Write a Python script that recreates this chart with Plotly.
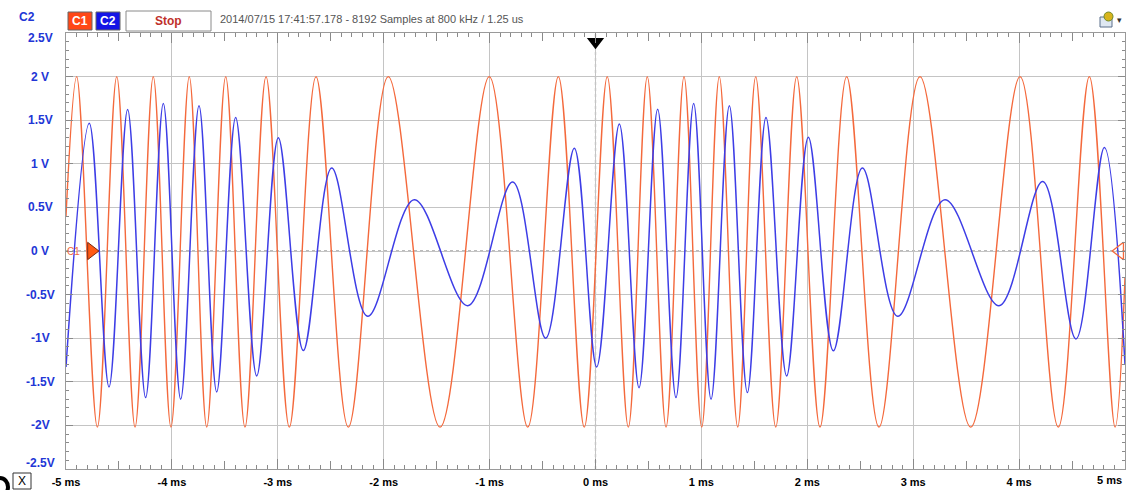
import plotly.graph_objects as go

# ---- data (time in ms, voltage in V) ----
# C1 (orange): extrema of the swept sine, plus the two window edges
c1_t = [-5.0, -4.899, -4.704, -4.521, -4.348, -4.176, -4.009, -3.836, -3.671, -3.492,
        -3.310, -3.111, -2.891, -2.639, -2.334, -1.957, -1.468, -1.003, -0.640, -0.351,
        -0.106, 0.111, 0.310, 0.489, 0.666, 0.836, 1.003, 1.169, 1.343, 1.513,
        1.702, 1.900, 2.120, 2.372, 2.677, 3.064, 3.543, 4.009, 4.370, 4.663,
        4.906, 5.0]
c1_v = [0.4, 2.0, -2.02, 2.0, -2.02, 2.0, -2.02, 2.0, -2.02, 2.0,
        -2.02, 2.0, -2.02, 2.0, -2.02, 2.0, -2.02, 2.0, -2.02, 2.0,
        -2.02, 2.0, -2.02, 2.0, -2.02, 2.0, -2.02, 2.0, -2.02, 2.0,
        -2.02, 2.0, -2.02, 2.0, -2.02, 2.0, -2.02, 2.0, -2.02, 2.0,
        -2.02, -0.3]

# C2 (blue): extrema of the filtered response, plus the two window edges
c2_t = [-5.0, -4.780, -4.594, -4.418, -4.248, -4.081, -3.917, -3.744, -3.577, -3.398,
        -3.199, -2.995, -2.759, -2.491, -2.151, -1.711, -1.207, -0.782, -0.470, -0.200,
        0.011, 0.225, 0.411, 0.587, 0.760, 0.927, 1.091, 1.264, 1.434, 1.610,
        1.805, 2.010, 2.246, 2.520, 2.854, 3.300, 3.810, 4.223, 4.537, 4.805,
        5.0]
c2_v = [-1.33, 1.464, -1.559, 1.624, -1.681, 1.692, -1.700, 1.665, -1.616, 1.532,
        -1.433, 1.300, -1.141, 0.951, -0.749, 0.589, -0.627, 0.791, -1.000, 1.179,
        -1.331, 1.456, -1.567, 1.627, -1.681, 1.692, -1.700, 1.665, -1.624, 1.532,
        -1.433, 1.304, -1.144, 0.951, -0.749, 0.589, -0.627, 0.798, -1.008, 1.186,
        -1.30]

x_tick_vals = [-5, -4, -3, -2, -1, 0, 1, 2, 3, 4, 5]
x_tick_text = ["-5 ms", "-4 ms", "-3 ms", "-2 ms", "-1 ms", "0 ms", "1 ms", "2 ms",
               "3 ms", "4 ms", "5 ms"]
x_half_ticks = [-4.5, -3.5, -2.5, -1.5, -0.5, 0.5, 1.5, 2.5, 3.5, 4.5]
y_tick_vals = [2.5, 2, 1.5, 1, 0.5, 0, -0.5, -1, -1.5, -2, -2.5]
y_tick_text = ["2.5V", "2 V", "1.5V", "1 V", "0.5V", "0 V", "-0.5V", "-1V", "-1.5V",
               "-2V", "-2.5V"]

trigger_time = 0.0
trigger_level = 0.0

# ---- style ----
ORANGE = "#f4693c"
BLUE = "#3d3de6"
LABEL_BLUE = "#2236d6"
GRID = "#c4c4c4"
FONT = "Liberation Sans, Arial, sans-serif"

L, R, T, B = 66, 2, 33, 21
W, H = 1127, 490
PW, PH = W - L - R, H - T - B


def px(xpix):
    return (xpix - L) / PW


def py(ypix):
    return (H - B - ypix) / PH


def note(x, y, text, size, color, xanchor="center", xref="paper", yref="paper", yshift=0):
    fig.add_annotation(x=x, xref=xref, y=y, yref=yref, text=text, showarrow=False,
                       xanchor=xanchor, yanchor="middle", yshift=yshift,
                       font=dict(family=FONT, size=size, color=color))


fig = go.Figure()

fig.add_trace(go.Scatter(x=c1_t, y=c1_v, mode="lines",
                         line=dict(color=ORANGE, width=1.4, shape="spline", smoothing=1.0),
                         hoverinfo="skip", showlegend=False))
fig.add_trace(go.Scatter(x=c2_t, y=c2_v, mode="lines",
                         line=dict(color=BLUE, width=1.5, shape="spline", smoothing=1.0),
                         hoverinfo="skip", showlegend=False))

# dummy trace on the overlay axis that draws the 0.5 ms ruler ticks
fig.add_trace(go.Scatter(x=[x_tick_vals[0]], y=[trigger_level], xaxis="x2", mode="markers",
                         marker=dict(opacity=0), hoverinfo="skip", showlegend=False))

# trigger marker (top) and channel markers
fig.add_trace(go.Scatter(x=[trigger_time], y=[2.40], mode="markers",
                         marker=dict(symbol="triangle-down", size=15, color="black"),
                         cliponaxis=False, hoverinfo="skip", showlegend=False))
fig.add_trace(go.Scatter(x=[-4.76], y=[trigger_level], mode="markers",
                         marker=dict(symbol="triangle-right", size=15, color="#ff5a14",
                                     line=dict(color="#7a2a10", width=1)),
                         cliponaxis=False, hoverinfo="skip", showlegend=False))
fig.add_trace(go.Scatter(x=[4.95], y=[trigger_level], mode="markers",
                         marker=dict(symbol="triangle-left-open", size=15, color=ORANGE,
                                     line=dict(width=1.3)),
                         cliponaxis=False, hoverinfo="skip", showlegend=False))

# dotted zero / trigger lines
fig.add_shape(type="line", xref="x", yref="paper", x0=trigger_time, x1=trigger_time,
              y0=0, y1=1, line=dict(color="#777777", width=1.2, dash="dot"), layer="below")
fig.add_shape(type="line", xref="paper", yref="y", x0=0, x1=1, y0=trigger_level,
              y1=trigger_level, line=dict(color="#777777", width=1.2, dash="dot"), layer="below")

# y tick labels (centred, blue bold)
for v, t in zip(y_tick_vals, y_tick_text):
    shift = -5 if v == y_tick_vals[0] else (6 if v == y_tick_vals[-1] else 0)
    note(px(40), v, "<b>%s</b>" % t, 12, LABEL_BLUE, yref="y", yshift=shift)

# last x tick label sits inside the right edge
fig.add_annotation(x=x_tick_vals[-1], xref="x", y=0, yref="paper", yanchor="top",
                   xanchor="right", yshift=-3, xshift=-1, showarrow=False,
                   text="<b>%s</b>" % x_tick_text[-1],
                   font=dict(family=FONT, size=11, color="black"))

# "C1" label at left trigger marker
note(px(73), trigger_level, "C1", 10, ORANGE, yref="y")

# header: channel label, buttons, status text
note(px(27), py(17), "<b>C2</b>", 12, LABEL_BLUE)
fig.add_shape(type="rect", xref="paper", yref="paper", x0=px(68), x1=px(92),
              y0=py(30), y1=py(12), fillcolor="#ff4716", line=dict(color="#666666", width=1))
note(px(80), py(21), "<b>C1</b>", 12, "white")
fig.add_shape(type="rect", xref="paper", yref="paper", x0=px(96), x1=px(120),
              y0=py(30), y1=py(12), fillcolor="#1414e6", line=dict(color="#666666", width=1))
note(px(108), py(21), "<b>C2</b>", 12, "white")
fig.add_shape(type="rect", xref="paper", yref="paper", x0=px(126), x1=px(211),
              y0=py(31), y1=py(11), fillcolor="white", line=dict(color="#8a8a8a", width=1))
note(px(168.5), py(21), "<b>Stop</b>", 12, "#c0302a")
note(px(218), py(19), "2014/07/15 17:41:57.178 - 8192 Samples at 800 kHz / 1.25 us",
     11, "#555555", xanchor="left")

# small toolbar icon at the top right
fig.add_shape(type="rect", xref="paper", yref="paper", x0=px(1100), x1=px(1112),
              y0=py(27), y1=py(17), fillcolor="#dfe8f2", line=dict(color="#5a6f8a", width=1))
fig.add_shape(type="circle", xref="paper", yref="paper", x0=px(1104), x1=px(1113),
              y0=py(21), y1=py(12), fillcolor="#d8b41c", line=dict(color="#6f8a2a", width=1))
note(px(1119), py(20), "▾", 9, "#333333")

# bottom-left "X" box and partial black circle
fig.add_shape(type="rect", xref="paper", yref="paper", x0=px(13), x1=px(31),
              y0=py(489), y1=py(473), fillcolor="white", line=dict(color="#333333", width=1))
note(px(22), py(481), "X", 12, "black")
fig.add_shape(type="circle", xref="paper", yref="paper", x0=px(-8), x1=px(8),
              y0=py(496), y1=py(478), fillcolor="rgba(0,0,0,0)",
              line=dict(color="black", width=4))

fig.update_layout(
    width=W, height=H,
    margin=dict(l=L, r=R, t=T, b=B, pad=0, autoexpand=False),
    paper_bgcolor="white", plot_bgcolor="white",
    font=dict(family=FONT, size=11, color="black"),
    showlegend=False,
    xaxis=dict(range=[-5, 5], tickvals=x_tick_vals[:-1], ticktext=x_tick_text[:-1],
               showgrid=True, gridcolor=GRID, gridwidth=1, zeroline=False,
               showline=True, linecolor="#9a9a9a", linewidth=1, mirror="ticks",
               ticks="inside", ticklen=10, tickcolor="#8a8a8a", tickwidth=1,
               minor=dict(dtick=0.1, tick0=0, ticks="inside", ticklen=4,
                          tickcolor="#8a8a8a", showgrid=False),
               tickfont=dict(family=FONT, size=11, color="black", weight="bold"),
               ticklabelstandoff=3, automargin=False, fixedrange=True),
    xaxis2=dict(range=[-5, 5], overlaying="x", matches="x", side="bottom",
                tickvals=x_half_ticks, showticklabels=False, showgrid=False,
                zeroline=False, showline=False, mirror="ticks", automargin=False,
                ticks="inside", ticklen=8, tickcolor="#8a8a8a", tickwidth=1),
    yaxis=dict(range=[-2.5, 2.5], tickvals=y_tick_vals, showticklabels=False,
               showgrid=True, gridcolor=GRID, gridwidth=1, zeroline=False,
               showline=True, linecolor="#9a9a9a", linewidth=1, mirror="ticks",
               ticks="inside", ticklen=7, tickcolor="#8a8a8a", automargin=False,
               minor=dict(dtick=0.1, tick0=0, ticks="inside", ticklen=3,
                          tickcolor="#8a8a8a", showgrid=False),
               fixedrange=True),
)

fig.write_html("out.html", config={"displayModeBar": False},
               post_script="document.body.style.margin='0';document.body.style.overflow='hidden';")
